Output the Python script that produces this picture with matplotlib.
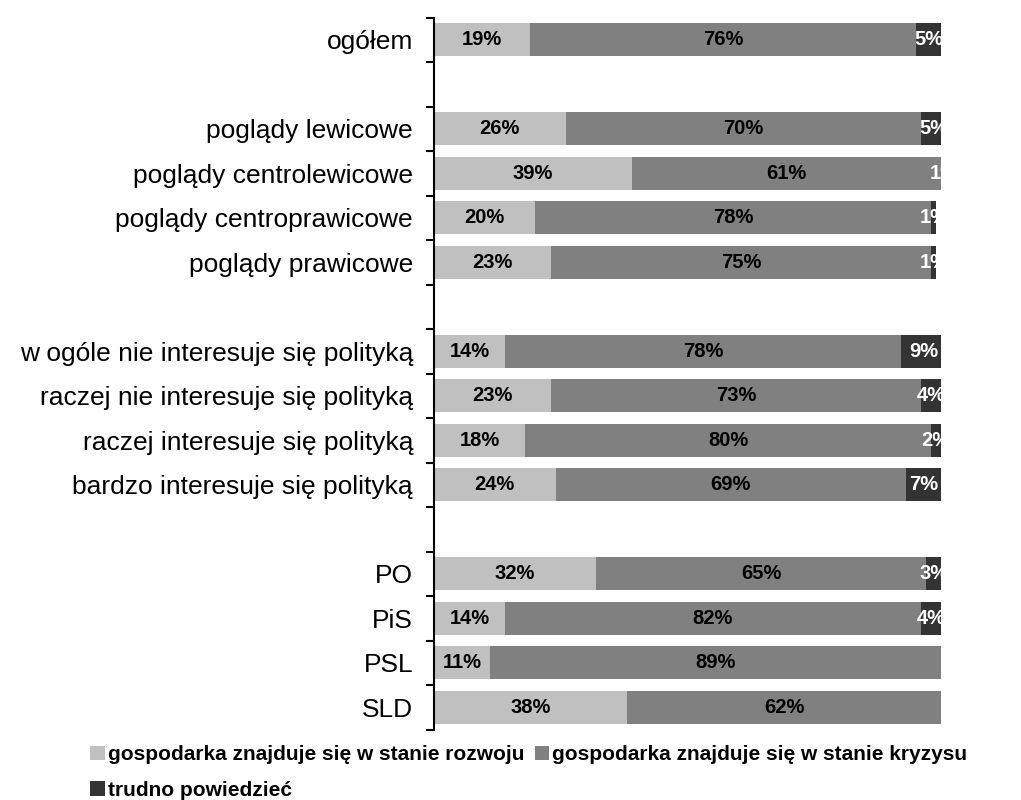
import matplotlib.pyplot as plt
import numpy as np

plt.rcParams['font.family'] = ['Liberation Sans', 'DejaVu Sans']

categories = ['ogółem', '',
              'poglądy lewicowe', 'poglądy centrolewicowe',
              'poglądy centroprawicowe', 'poglądy prawicowe', '',
              'w ogóle nie interesuje się polityką',
              'raczej nie interesuje się polityką',
              'raczej interesuje się polityką',
              'bardzo interesuje się polityką', '',
              'PO', 'PiS', 'PSL', 'SLD']
rozwoj = [19, None, 26, 39, 20, 23, None, 14, 23, 18, 24, None, 32, 14, 11, 38]
kryzys = [76, None, 70, 61, 78, 75, None, 78, 73, 80, 69, None, 65, 82, 89, 62]
trudno = [5, None, 5, 1, 1, 1, None, 9, 4, 2, 7, None, 3, 4, 0, 0]

series_names = ['gospodarka znajduje się w stanie rozwoju',
                'gospodarka znajduje się w stanie kryzysu',
                'trudno powiedzieć']
colors = ['#c0c0c0', '#808080', '#333333']
text_colors = ['black', 'black', 'white']

fig = plt.figure(figsize=(10.21, 8), dpi=100)
ax = fig.add_axes([0.425, 0.088, 0.497, 0.89])

idx = [i for i, v in enumerate(rozwoj) if v is not None]
left = np.zeros(len(idx))
handles = []
for vals, c, tc, name in zip([rozwoj, kryzys, trudno], colors, text_colors, series_names):
    w = np.array([vals[i] for i in idx], dtype=float)
    b = ax.barh(idx, w, left=left, height=0.74, color=c, label=name)
    handles.append(b)
    for y, l, v in zip(idx, left, w):
        if v > 0:
            ax.text(l + v / 2, y, f'{int(v)}%', ha='center', va='center',
                    fontsize=14.5, fontweight='bold', color=tc, clip_on=True)
    left = left + w

ax.set_xlim(0, 100)
ax.set_ylim(len(categories) - 0.5, -0.5)
ax.set_yticks(range(len(categories)))
ax.set_yticklabels(categories, fontsize=19)
ax.tick_params(axis='y', which='major', length=0, pad=15)
ax.set_yticks(np.arange(-0.5, len(categories), 1), minor=True)
ax.tick_params(axis='y', which='minor', length=6, width=1.5, direction='out')
ax.set_xticks([])
for s in ['top', 'right', 'bottom']:
    ax.spines[s].set_visible(False)
ax.spines['left'].set_linewidth(1.5)

fig.legend([handles[0], handles[2], handles[1]],
           [series_names[0], series_names[2], series_names[1]],
           ncol=2, loc='upper left', bbox_to_anchor=(0.08, 0.079),
           frameon=False, handlelength=0.7, handleheight=0.7, handletextpad=0.15,
           columnspacing=0.5, labelspacing=0.8, borderaxespad=0,
           prop={'weight': 'bold', 'size': 15})

fig.savefig('out.png', dpi=100)
